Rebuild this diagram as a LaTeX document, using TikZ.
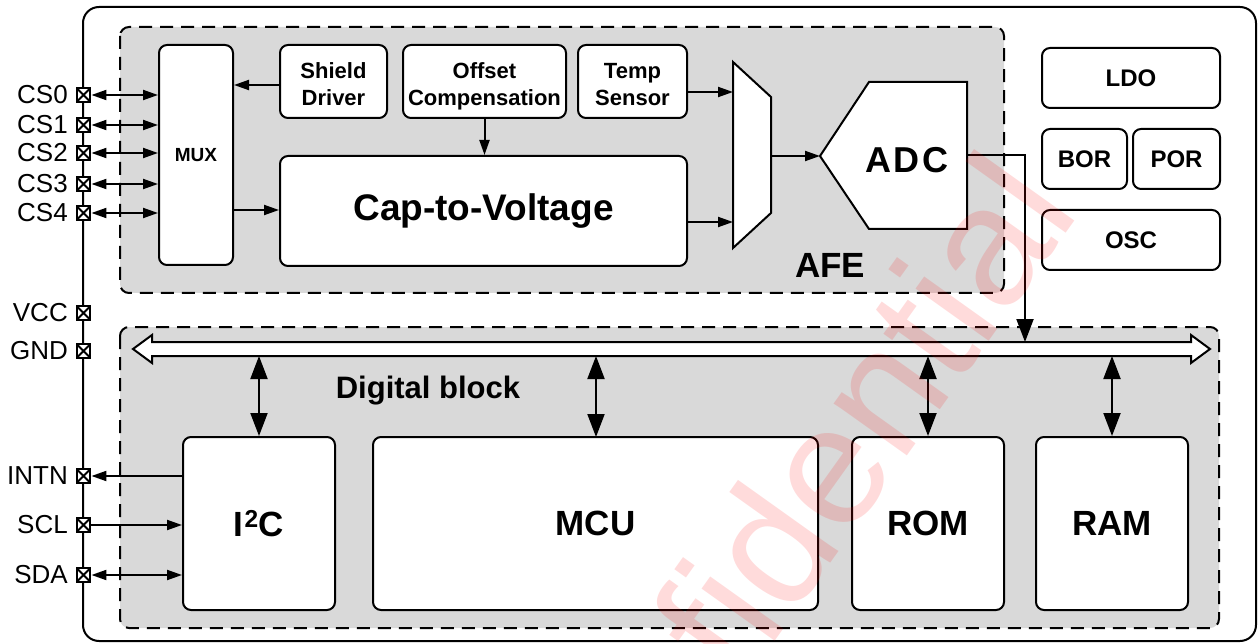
\documentclass[tikz,border=0pt]{standalone}
\usepackage{fontspec}
\setmainfont{Liberation Sans}
\usetikzlibrary{arrows.meta}
\definecolor{regiongray}{HTML}{D9D9D9}
\tikzset{
  box/.style={draw, line width=2pt, rounded corners=8pt, fill=white, inner sep=0pt, align=center},
  region/.style={draw, line width=2pt, dash pattern=on 13pt off 8pt, rounded corners=9pt, fill=regiongray},
  pin/.style={draw, line width=2.4pt, minimum size=13.5pt, inner sep=0pt, fill=white,
    path picture={\draw[line width=1.8pt] (path picture bounding box.north west)--(path picture bounding box.south east)
      (path picture bounding box.north east)--(path picture bounding box.south west);}},
  pinlabel/.style={anchor=east, inner sep=0pt, font=\fontsize{26}{26}\selectfont},
  smalltxt/.style={inner sep=0pt, align=center, font=\fontsize{22}{27}\selectfont\bfseries},
  bigtxt/.style={font=\fontsize{35}{35}\selectfont\bfseries},
  pwrtxt/.style={font=\fontsize{24}{24}\selectfont\bfseries},
  conn/.style={line width=2pt, -{Triangle[length=15pt,width=10pt]}},
  dconn/.style={line width=2pt, {Triangle[length=15pt,width=10pt]}-{Triangle[length=15pt,width=10pt]}},
  busconn/.style={line width=2pt, {Triangle[length=23pt,width=17pt]}-{Triangle[length=23pt,width=17pt]}},
  busin/.style={line width=2pt, -{Triangle[length=23pt,width=17pt]}},
}
\begin{document}
\begin{tikzpicture}[x=1pt,y=-1pt]
\useasboundingbox (0,0) rectangle (1258,644);
% outer chip outline
\draw[line width=2pt, rounded corners=16pt] (83,7) rectangle (1256,641);
% regions
\draw[region] (120,27) rectangle (1004,293);
\draw[region] (120,327) rectangle (1219,628);
% AFE blocks
\node[box, minimum width=74pt, minimum height=220pt, font=\fontsize{19}{19}\selectfont\bfseries] (mux) at (196,155) {MUX};
\node[box, minimum width=107pt, minimum height=73pt] (shield) at (333.5,81.5) {};
\node[box, minimum width=163pt, minimum height=73pt] (offset) at (484.5,81.5) {};
\node[box, minimum width=109pt, minimum height=73pt] (temp) at (632.5,81.5) {};
\node[smalltxt, yshift=-5.3pt] (shieldtxt) at (shield.center) {Shield\\Driver\vphantom{p}};
\node[smalltxt, yshift=-5.3pt] (offsettxt) at (offset.center) {Offset\\Compensation};
\node[smalltxt, yshift=-5.3pt] (temptxt) at (temp.center) {Temp\\Sensor\vphantom{p}};
\node[box, minimum width=407pt, minimum height=110pt, font=\fontsize{37}{37}\selectfont\bfseries] (cap) at (483.5,211) {Cap-to-Voltage};
% analog mux (trapezoid)
\draw[line width=2pt, fill=white, line join=miter] (733,62) -- (771,97) -- (771,213) -- (733,248) -- cycle;
\coordinate (m2in1) at (733,92);
\coordinate (m2in2) at (733,222);
\coordinate (m2out) at (771,156);
% ADC
\draw[line width=2pt, fill=white, line join=miter] (820,156) -- (869,82) -- (967,82) -- (967,229) -- (869,229) -- cycle;
\coordinate (adcin) at (820,156);
\coordinate (adcout) at (967,155);
\node[inner sep=0pt, font=\fontsize{36}{36}\selectfont\bfseries] (adctxt) at (907,160) {A\kern2.5pt D\kern2.5pt C};
\node[inner sep=0pt, bigtxt] (afe) at (830,265) {AFE};
% power blocks
\node[box, pwrtxt, minimum width=178pt, minimum height=60pt] (ldo) at (1131,78) {LDO};
\node[box, pwrtxt, minimum width=85pt, minimum height=60pt] (bor) at (1084.5,159) {BOR};
\node[box, pwrtxt, minimum width=87pt, minimum height=60pt] (por) at (1176.5,159) {POR};
\node[box, pwrtxt, minimum width=178pt, minimum height=60pt] (osc) at (1131,240) {OSC};
% digital blocks
\node[box, bigtxt, minimum width=152pt, minimum height=173pt] (i2c) at (259,523.5) {I\kern1pt\textsuperscript{2}C};
\node[box, bigtxt, minimum width=445pt, minimum height=173pt] (mcu) at (595.5,523.5) {MCU};
\node[box, bigtxt, minimum width=152pt, minimum height=173pt] (rom) at (928,523.5) {ROM};
\node[box, bigtxt, minimum width=152pt, minimum height=173pt] (ram) at (1112,523.5) {RAM};
\node[inner sep=0pt, font=\fontsize{31}{31}\selectfont\bfseries] (dig) at (428,391) {Digital block};
% bus
\draw[line width=2pt, fill=white, line join=miter] (133,349) -- (152,335) -- (152,342) -- (1191,342) -- (1191,335) -- (1210,349) -- (1191,363) -- (1191,356) -- (152,356) -- (152,363) -- cycle;
\coordinate (busbot) at (0,356);
\coordinate (busadc) at (1025,342);
% pins
\foreach \n/\y in {CS0/95, CS1/125, CS2/153, CS3/184, CS4/213, VCC/313, GND/351, INTN/476, SCL/525, SDA/575}{
  \node[pin] (p\n) at (83.5,\y) {};
  \node[pinlabel] (l\n) at (68,\y) {\n};
}
% connectors AFE
\foreach \n in {CS0, CS1, CS2, CS3, CS4}{
  \draw[dconn] (p\n.east) -- (p\n.east -| mux.west);
}
\draw[conn] (shield.west |- 0,85) -- (mux.east |- 0,85);
\draw[conn] (offset.south) -- (offset.south |- cap.north);
\draw[conn] (mux.east |- 0,210) -- (cap.west |- 0,210);
\draw[conn] (temp.east |- m2in1) -- (m2in1);
\draw[conn] (cap.east |- m2in2) -- (m2in2);
\draw[conn] (m2out) -- (adcin);
\draw[busin] (adcout) -| (busadc);
% digital connectors
\draw[conn] (i2c.west |- pINTN) -- (pINTN.east);
\draw[conn] (pSCL.east) -- (i2c.west |- pSCL);
\draw[dconn] (pSDA.east) -- (i2c.west |- pSDA);
\foreach \b in {i2c, rom, ram}{
  \draw[busconn] (\b.north |- busbot) -- (\b.north);
}
\draw[busconn] (596,356) -- (596,437);
% watermark
\begin{scope}
\clip (0,0) rectangle (1258,644);
\node[rotate=54.5, anchor=base west, inner sep=0pt, text=red, text opacity=0.14, font=\fontsize{170}{170}\selectfont] (wm) at (560,943) {Confidential};
\end{scope}
\end{tikzpicture}
\end{document}
